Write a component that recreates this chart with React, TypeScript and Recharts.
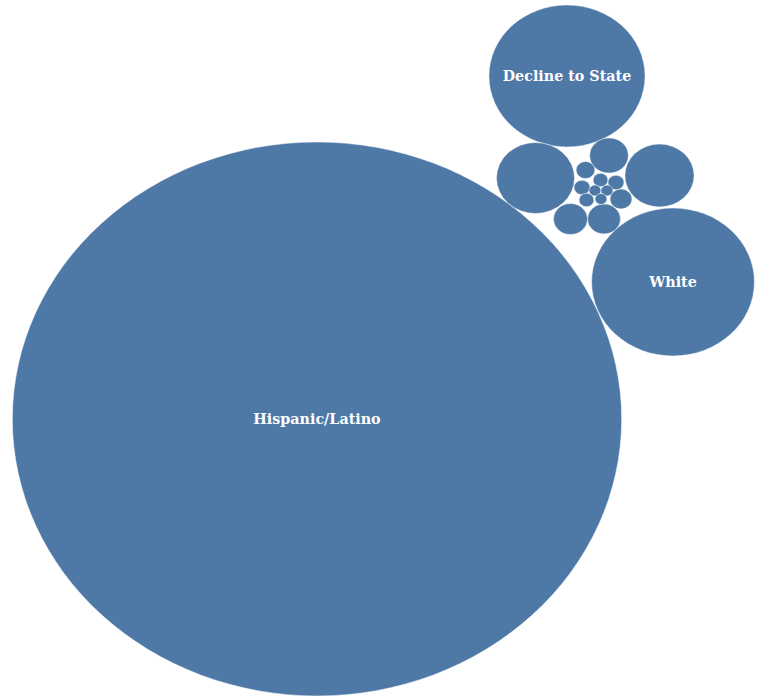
import React from "react";
import { ScatterChart, Scatter, XAxis, YAxis, ZAxis } from "recharts";

// packed bubble layout: position in layout units, size = student count
const groups = [
  "Hispanic/Latino",
  "Decline to State",
  "White",
  "Asian",
  "Filipino",
  "African American",
  "Two or More Races",
  "Pacific Islander",
  "American Indian",
  "Other 1",
  "Other 2",
  "Other 3",
  "Other 4",
  "Other 5",
  "Other 6",
  "Other 7",
  "Other 8",
];
const layoutX = [317, 567, 673, 535.5, 659.5, 609, 570.5, 604, 585.5, 600.5, 616, 582, 595, 607, 586.5, 601, 621];
const layoutY = [419, 76, 282, 178, 175.5, 155.5, 219, 219, 170, 180, 182.5, 187.5, 190.5, 190.5, 200, 199, 199];
const students = [7673, 504, 548, 126, 99, 31, 24, 22.5, 7.4, 4.6, 5.3, 5.3, 3, 3, 4.6, 3, 10];
const labelled = ["Hispanic/Latino", "Decline to State", "White"];

const data = groups.map((name, i) => ({
  name,
  x: layoutX[i],
  y: layoutY[i],
  value: students[i],
}));

const MAX_R = 277;
const STRETCH = 1.1;

function Bubble(props: any) {
  const { cx, cy, size, payload } = props;
  const r = Math.sqrt(size / Math.PI);
  return (
    <g>
      <ellipse cx={cx} cy={cy} rx={r * STRETCH} ry={r} fill="#4e79a7" stroke="#fff" strokeWidth={0.5} />
      {labelled.includes(payload.name) && (
        <text
          x={cx}
          y={cy}
          textAnchor="middle"
          dominantBaseline="central"
          fill="#fff"
          fontFamily="DejaVu Serif, serif"
          fontWeight="bold"
          fontSize={14.3}
        >
          {payload.name}
        </text>
      )}
    </g>
  );
}

export default function App() {
  return (
    <div style={{ position: "absolute", left: 0, top: 0, background: "#fff" }}>
      <ScatterChart width={757} height={696} margin={{ top: 0, right: 0, bottom: 0, left: 0 }}>
        <XAxis type="number" dataKey="x" domain={[0, 757]} hide />
        <YAxis type="number" dataKey="y" domain={[0, 696]} reversed hide />
        <ZAxis type="number" dataKey="value" domain={[0, 7673]} range={[0, Math.PI * MAX_R * MAX_R]} />
        <Scatter data={data} shape={<Bubble />} isAnimationActive={false} />
      </ScatterChart>
    </div>
  );
}
